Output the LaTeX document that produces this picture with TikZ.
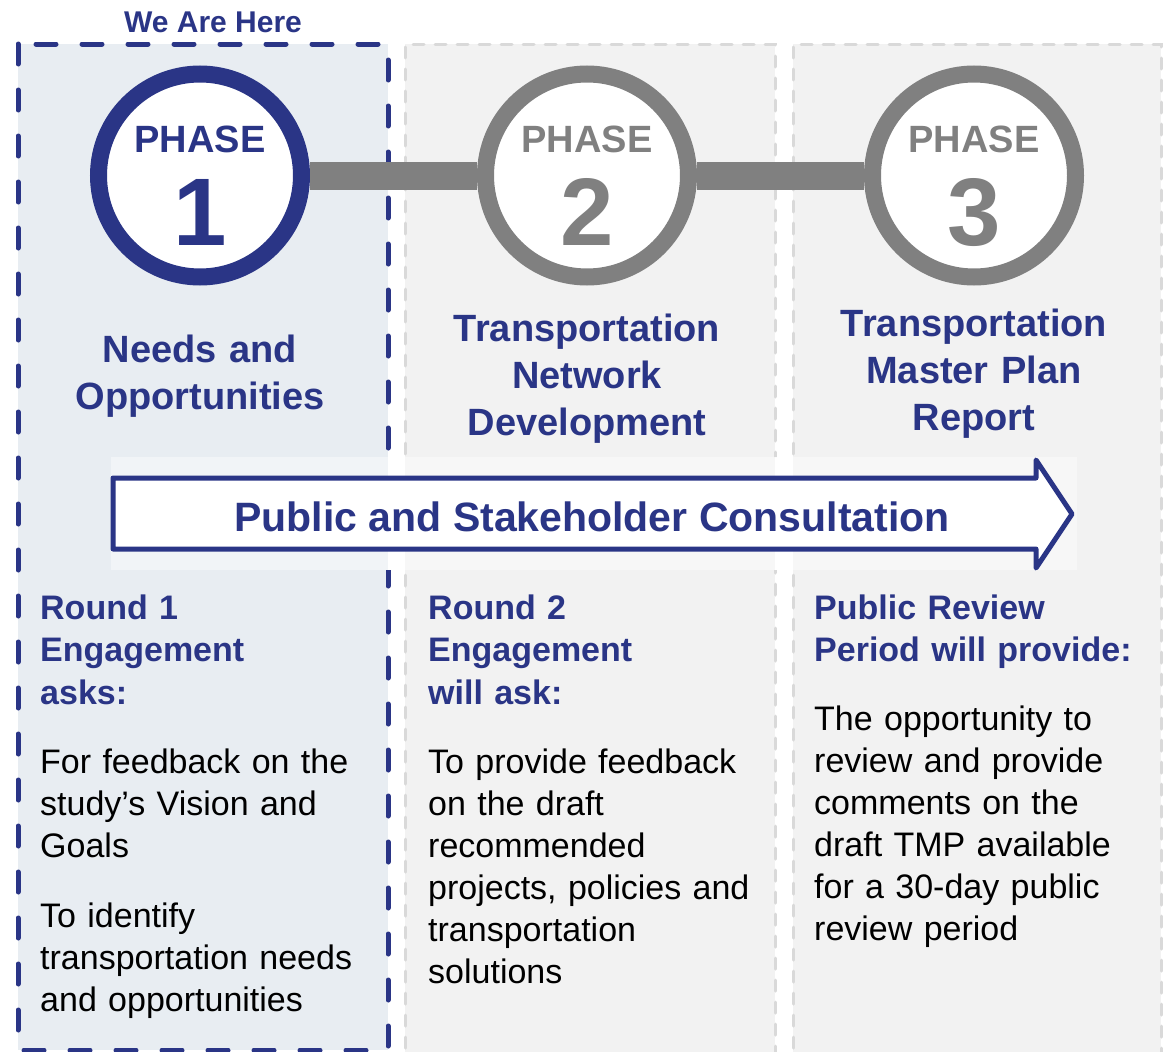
\documentclass[tikz,border=0pt]{standalone}
\usepackage{fontspec}
\setmainfont{Liberation Sans}
\definecolor{navy}{HTML}{2A3586}
\definecolor{ringgray}{HTML}{808080}
\definecolor{paneblue}{HTML}{E8EDF2}
\definecolor{panegray}{HTML}{F2F2F2}
\definecolor{dashgray}{HTML}{D9D9D9}
\tikzset{
	phasering/.style={circle, line width=17pt, minimum size=203pt, inner sep=0pt, fill=white},
	phasebar/.style={line width=28pt, ringgray},
	title/.style={anchor=base, text width=360pt, align=center, inner sep=0pt, text=navy, font=\fontsize{38}{47}\selectfont\bfseries},
	heading/.style={anchor=base west, text width=360pt, align=left, inner sep=0pt, text=navy, font=\fontsize{34}{42.5}\selectfont\bfseries},
	bodytext/.style={anchor=base west, text width=360pt, align=left, inner sep=0pt, font=\fontsize{34}{42}\selectfont},
}
\begin{document}
\begin{tikzpicture}[x=1pt,y=-1pt]
	\clip (0,0) rectangle (1165,1052);
	% Panels
	\fill[paneblue] (18,44) rectangle (388,1050);
	\fill[panegray] (405,44) rectangle (775,1070);
	\fill[panegray] (793,44) rectangle (1161,1070);
	\begin{scope}[even odd rule]
		\clip (0,0) rectangle (1165,1052) (111,457) rectangle (1077,570); % gap behind arrow
		\draw[navy, line width=5pt, line cap=round, dash pattern=on 20pt off 26pt] (18,44) rectangle (388,1050);
		\foreach \xa/\xb in {405/775, 793/1161}
			\draw[dashgray, line width=3pt, line cap=round, dash pattern=on 11pt off 11pt] (\xa,1070) -- (\xa,44) -- (\xb,44) -- (\xb,1070);
	\end{scope}
	\fill[white, opacity=0.4] (111,457) rectangle (1077,570);
	\node[font=\fontsize{30}{36}\selectfont\bfseries, text=navy, anchor=base] (here) at (213,32) {We Are Here};
	% Phase circles
	\foreach \x/\n/\c in {200/1/navy, 587/2/ringgray, 974/3/ringgray} {
		\node[phasering, draw=\c] (p\n) at (\x,175.5) {};
		\node[anchor=base, text=\c, font=\fontsize{38}{40}\selectfont\bfseries] (phase\n) at (\x,152) {PHASE};  % label
		\node[anchor=base, text=\c, font=\fontsize{96}{96}\selectfont\bfseries] (num\n) at (\x,245) {\n};      % number
	}
	\foreach \a/\b in {p1/p2, p2/p3}
		\draw[phasebar] (\a) -- (\b);
	% Titles
	\node[title] (needs) at (200,362) {Needs and\\Opportunities};
	\node[title] (network) at (587,341) {Transportation\\Network\\Development};
	\node[title] (report) at (974,336) {Transportation\\Master Plan\\Report};
	% Consultation arrow
	\draw[navy, line width=5pt, fill=white, line join=round] (113,478) -- (1036,478) -- (1036,460) -- (1072,514) -- (1036,568) -- (1036,549) -- (113,549) -- cycle;
	\node[anchor=base, text=navy, font=\fontsize{41}{48}\selectfont\bfseries] (consult) at (592,531) {Public and Stakeholder Consultation};
	% Engagement text
	\node[heading] (round1) at (40,619) {Round 1\\Engagement\\asks:};
	\node[bodytext] (vision) at (40,773) {For feedback on the\\study’s Vision and\\Goals};
	\node[bodytext] (needsask) at (40,927) {To identify\\transportation needs\\and opportunities};
	\node[heading] (round2) at (428,619) {Round 2\\Engagement\\will ask:};
	\node[bodytext] (draft) at (428,773) {To provide feedback\\on the draft\\recommended\\projects, policies and\\transportation\\solutions};
	\node[heading] (review) at (814,619) {Public Review\\Period will provide:};
	\node[bodytext] (provide) at (814,730) {The opportunity to\\review and provide\\comments on the\\draft TMP available\\for a 30-day public\\review period};
\end{tikzpicture}
\end{document}
